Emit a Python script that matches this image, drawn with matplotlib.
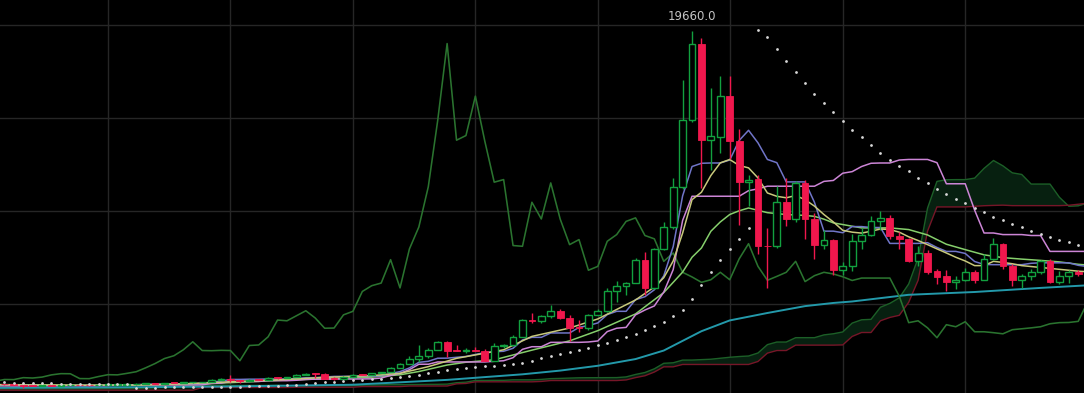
import numpy as np
import matplotlib.pyplot as plt

# weekly candles, index 0 = week of 11 Jul 2016
opens = [675, 665, 655, 625, 590, 570, 580, 570, 606, 608, 607, 603, 612, 617, 640, 655, 700, 712, 705, 738,
         730, 765, 770, 790, 890, 960, 905, 820, 922, 915, 1020, 1000, 1050, 1170, 1240, 1230, 970, 965, 1080, 1185,
         1170, 1250, 1340, 1550, 1780, 2050, 2200, 2520, 2950, 2500, 2470, 2490, 2480, 1930, 2750, 2780, 3220, 4120, 4080, 4350,
         4620, 4230, 3700, 3690, 4400, 4590, 5660, 5970, 6110, 7370, 5850, 7950, 9130, 11290, 14860, 19000, 13830, 13980, 16170, 13780,
         11540, 11720, 8130, 8090, 10460, 9560, 11500, 9560, 8180, 8450, 6800, 7050, 8360, 8720, 9430, 9620, 8670, 8490, 7280, 7730,
         6740, 6470, 6150, 6290, 6690, 6290, 7410, 8230, 7010, 6260, 6470, 6690, 7280, 6190, 6510, 6690]
highs = [680, 680, 665, 630, 600, 595, 585, 615, 630, 612, 610, 615, 620, 645, 660, 710, 745, 720, 750, 745,
         775, 775, 795, 935, 975, 1150, 910, 930, 925, 1030, 1065, 1060, 1195, 1280, 1290, 1260, 1070, 1100, 1210, 1215,
         1260, 1350, 1600, 1800, 2200, 2760, 2600, 2980, 2980, 2760, 2620, 2650, 2540, 2900, 2830, 3300, 4200, 4480, 4400, 4950,
         4700, 4400, 4120, 4470, 4710, 5850, 6200, 6180, 7460, 7770, 8000, 9400, 11770, 17060, 19660, 19320, 16630, 17250, 17250, 14410,
         11950, 11950, 9100, 11320, 11780, 11600, 11680, 9900, 8950, 8500, 7240, 8740, 9050, 9740, 9970, 9750, 8880, 8560, 8090, 7900,
         6880, 6830, 6500, 6900, 6800, 7700, 8540, 8270, 7150, 6620, 6880, 7350, 7400, 6740, 6830, 6830]
lows = [645, 650, 600, 480, 565, 565, 565, 565, 600, 600, 590, 600, 605, 615, 625, 650, 680, 700, 700, 725,
        725, 755, 760, 785, 880, 810, 750, 820, 880, 915, 940, 990, 1050, 1160, 980, 950, 890, 930, 1040, 1150,
        1160, 1250, 1340, 1550, 1760, 1850, 2100, 2500, 2130, 2450, 2350, 2450, 1900, 1900, 2600, 2700, 3200, 3950, 3950, 4250,
        4150, 2980, 3500, 3600, 4380, 4550, 5100, 5450, 6100, 5480, 5800, 7900, 9000, 11200, 14800, 11250, 12220, 13130, 12800, 9260,
        10240, 7650, 5860, 8000, 9170, 9400, 8480, 7380, 7950, 6530, 6520, 6770, 7950, 8620, 8990, 8480, 7950, 7250, 7010, 6600,
        6080, 5660, 5810, 6200, 6100, 6290, 7330, 6870, 5970, 5860, 6280, 6620, 6110, 6080, 6120, 6490]
closes = [665, 655, 625, 590, 570, 580, 570, 608, 608, 607, 603, 612, 617, 640, 655, 700, 705, 705, 735, 730,
          765, 770, 790, 890, 960, 905, 820, 920, 915, 1020, 1000, 1050, 1170, 1235, 1230, 970, 965, 1080, 1180, 1170,
          1250, 1340, 1550, 1780, 2050, 2200, 2520, 2950, 2480, 2470, 2490, 2480, 1930, 2750, 2780, 3220, 4120, 4080, 4350, 4620,
          4230, 3680, 3690, 4400, 4590, 5660, 5970, 6110, 7370, 5850, 7950, 9130, 11290, 14860, 19000, 13800, 14050, 16170, 13750, 11540,
          11680, 8130, 8090, 10460, 9560, 11500, 9560, 8180, 8450, 6800, 7010, 8360, 8720, 9430, 9620, 8670, 8490, 7280, 7730, 6690,
          6440, 6150, 6290, 6690, 6290, 7410, 8230, 7010, 6260, 6470, 6690, 7280, 6190, 6510, 6690, 6600]

# ichimoku lines, one value per bar (117 = visible bars + 1 off the right edge)
tenkan = [630, 630, 630, 630, 630, 580, 580, 580, 580, 580, 580, 580, 597, 605, 612, 637, 668, 668, 670, 675,
          690, 695, 710, 792, 828, 925, 925, 937, 937, 950, 950, 950, 972, 1015, 1020, 1055, 1085, 1090, 1090, 1090,
          1090, 1120, 1245, 1345, 1545, 1845, 1900, 2065, 2070, 2115, 2160, 2265, 2370, 2415, 2440, 2600, 3050, 3190, 3190, 3425,
          3425, 3425, 3725, 3825, 3965, 4415, 4590, 4590, 5220, 5375, 5750, 6500, 8075, 10805, 12383, 12558, 12573, 12573, 12733, 13783,
          14333, 13658, 12763, 12590, 11555, 11555, 11555, 10450, 8905, 8905, 8820, 9150, 9150, 9100, 9100, 8245, 8245, 8245, 8245, 8285,
          8025, 7815, 7815, 7705, 7270, 7110, 7100, 7100, 7100, 7100, 7175, 7200, 7200, 7200, 7200, 7065, 7000]
kijun = [575, 575, 575, 575, 590, 590, 590, 590, 600, 600, 600, 600, 600, 630, 630, 630, 630, 630, 630, 630,
         630, 630, 637, 707, 727, 815, 815, 815, 815, 857, 857, 857, 880, 922, 940, 940, 940, 945, 947, 952,
         957, 1000, 1140, 1250, 1450, 1742, 1742, 1865, 1865, 1865, 1865, 1865, 1865, 1900, 1930, 2095, 2545, 2685, 2685, 2920,
         2920, 2920, 2920, 2940, 2995, 3500, 3680, 3725, 4400, 4660, 4880, 5625, 6835, 9480, 10783, 10783, 10783, 10783, 10783, 10783,
         11083, 11183, 11323, 11323, 11323, 11323, 11323, 11323, 11583, 11633, 12023, 12108, 12383, 12558, 12573, 12573, 12733, 12763, 12763, 12763,
         12590, 11455, 11455, 11455, 10035, 8805, 8805, 8720, 8720, 8720, 8670, 8670, 7815, 7815, 7815, 7815, 7815]
lagging = [820, 920, 915, 1020, 1000, 1050, 1170, 1235, 1230, 970, 965, 1080, 1180, 1170, 1250, 1340, 1550, 1780, 2050, 2200,
           2520, 2950, 2480, 2470, 2490, 2480, 1930, 2750, 2780, 3220, 4120, 4080, 4350, 4620, 4230, 3680, 3690, 4400, 4590, 5660,
           5970, 6110, 7370, 5850, 7950, 9130, 11290, 14860, 19000, 13800, 14050, 16170, 13750, 11540, 11680, 8130, 8090, 10460, 9560, 11500,
           9560, 8180, 8450, 6800, 7010, 8360, 8720, 9430, 9620, 8670, 8490, 7280, 7730, 6690, 6440, 6150, 6290, 6690, 6290, 7410,
           8230, 7010, 6260, 6470, 6690, 7280, 6190, 6510, 6690, 6600, 6450, 6250, 6380, 6380, 6380, 6380, 5400, 3980, 4080, 3700,
           3170, 3870, 3760, 4030, 3490, 3490, 3440, 3380, 3600, 3650, 3700, 3760, 3920, 3980, 3990, 4050, 5100]
span_a = [405, 405, 408, 410, 410, 412, 415, 418, 420, 422, 425, 428, 430, 435, 440, 445, 450, 480, 520, 560,
          585, 600, 610, 615, 620, 605, 602, 602, 602, 602, 610, 585, 585, 585, 590, 590, 590, 590, 598, 617,
          621, 633, 649, 649, 650, 652, 660, 662, 673, 750, 777, 870, 870, 876, 876, 903, 903, 903, 926, 968,
          980, 997, 1012, 1017, 1018, 1021, 1023, 1060, 1192, 1297, 1497, 1793, 1821, 1965, 1967, 1990, 2012, 2065, 2117, 2157,
          2185, 2347, 2797, 2937, 2937, 3172, 3172, 3172, 3322, 3382, 3480, 3957, 4135, 4157, 4810, 5017, 5315, 6062, 7455, 10142,
          11583, 11670, 11678, 11678, 11758, 12283, 12708, 12420, 12043, 11956, 11439, 11439, 11439, 10729, 10244, 10269, 10421]
span_b = [345, 345, 345, 345, 345, 345, 345, 345, 345, 345, 345, 345, 345, 345, 345, 345, 345, 345, 345, 345,
          345, 345, 490, 490, 490, 490, 490, 490, 490, 490, 490, 490, 505, 505, 505, 505, 505, 505, 505, 540,
          540, 540, 540, 540, 570, 570, 570, 570, 570, 687, 707, 795, 795, 795, 795, 795, 795, 795, 817, 865,
          865, 865, 865, 865, 865, 865, 865, 897, 1022, 1122, 1322, 1602, 1602, 1730, 1730, 1730, 1730, 1730, 1730, 1730,
          1730, 1890, 2340, 2480, 2480, 2770, 2770, 2770, 2770, 2770, 2782, 3237, 3450, 3450, 4080, 4260, 4375, 5075, 6260, 8905,
          10208, 10208, 10208, 10208, 10243, 10273, 10290, 10303, 10278, 10278, 10278, 10278, 10278, 10278, 10298, 10353, 10408]

# moving averages, read at their bends
fast_ma_idx = [0, 9, 15, 20, 25, 30, 35, 40, 43, 46, 49, 52, 54, 57, 61, 64, 68, 70, 71, 72,
               73, 74, 75, 76, 77, 78, 79, 80, 81, 82, 83, 84, 85, 86, 87, 88, 89, 90, 91, 92,
               93, 94, 95, 96, 97, 98, 99, 100, 101, 102, 103, 104, 105, 106, 107, 108, 109, 110, 111, 112,
               113, 114, 115, 116]
fast_ma = [640, 608, 622, 686, 796, 899, 1033, 1130, 1252, 1612, 2059, 2335, 2520, 3240, 3690, 4180, 5200, 5900, 6400, 7300,
           8800, 10600, 11000, 11900, 12580, 12760, 12440, 12310, 11770, 10960, 10780, 10700, 10820, 10600, 10250, 9800, 9400, 8950, 8850, 8800,
           8900, 9020, 8990, 8850, 8600, 8400, 8180, 7950, 7730, 7500, 7300, 7050, 7050, 7280, 7220, 7150, 7050, 7000, 6950, 6900,
           6850, 6800, 6750, 6720]
slow_ma_idx = [0, 10, 20, 25, 30, 35, 40, 43, 45, 48, 50, 53, 57, 61, 64, 68, 71, 73, 74, 75,
               76, 77, 78, 79, 80, 82, 84, 86, 87, 88, 89, 90, 92, 95, 97, 99, 101, 103, 105, 107,
               109, 111, 113, 115, 116]
slow_ma = [650, 610, 660, 750, 870, 960, 1050, 1175, 1350, 1700, 1850, 1980, 2500, 3000, 3550, 4450, 5600, 6700, 7500, 8000,
           8900, 9400, 9800, 10000, 10150, 9900, 9800, 9750, 9700, 9550, 9350, 9260, 9080, 9080, 8990, 8700, 8200, 7910, 7630, 7480,
           7400, 7330, 7250, 7120, 7080]
long_ma_idx = [0, 12, 24, 38, 48, 56, 60, 64, 68, 71, 73, 75, 78, 82, 86, 89, 91, 97, 104, 111, 116]
long_ma = [470, 500, 540, 640, 900, 1200, 1400, 1660, 2020, 2480, 3000, 3520, 4100, 4500, 4870, 5040, 5120, 5480, 5630, 5850, 5990]

# parabolic SAR, one dot per bar
sar = [770, 760, 750, 745, 735, 725, 715, 705, 698, 690, 684, 678, 672, 666, 660,
       480, 484, 488, 492, 496, 500, 505, 510, 516, 523, 530, 540, 550, 560, 575, 590,
       610, 640, 680, 720, 760, 800, 840, 870, 900, 930,
       960, 1000, 1050, 1100, 1170, 1250, 1330, 1420, 1500, 1560,
       1600, 1630, 1660, 1700, 1750, 1830, 1930, 2070, 2200, 2300,
       2410, 2520, 2640, 2760, 2900, 3030, 3200, 3370, 3600, 3780,
       3990, 4320, 4640, 5250, 6020, 6690, 7330, 7950, 8490, 9080,
       19720, 19370, 18720, 18060, 17460, 16890, 16310, 15780, 15310, 14820,
       14340, 13960, 13530, 13120, 12760, 12400, 12130, 11770, 11470, 11180,
       10930, 10660, 10430, 10160, 9920, 9670, 9530, 9310, 9110, 8930,
       8760, 8590, 8410, 8300, 8180]

# bars where the time grid lines fall (quarter starts)
time_grid = [12, 25, 38, 51, 64, 78, 90, 103]
price_grid = [5000, 10000, 15000, 20000]

UP = "#12a03f"
DOWN = "#f0174d"

fig = plt.figure(figsize=(10.84, 3.93), dpi=100)
fig.patch.set_facecolor("black")
ax = fig.add_axes([0, 0, 1, 1])
ax.set_facecolor("black")

for g in time_grid:
    ax.axvline(g, color="#262626", lw=1.0, zorder=0)
for g in price_grid:
    ax.axhline(g, color="#262626", lw=1.0, zorder=0)

# cloud
li = np.arange(len(span_a))
sa = np.array(span_a, dtype=float)
sb = np.array(span_b, dtype=float)
ax.fill_between(li, sa, sb, where=sa >= sb, interpolate=True, color="#072010", lw=0, zorder=1)
ax.fill_between(li, sa, sb, where=sa < sb, interpolate=True, color="#22080e", lw=0, zorder=1)
ax.plot(li, sa, color="#1c5f27", lw=1.0, zorder=2)
ax.plot(li, sb, color="#761628", lw=1.0, zorder=2)

# indicator lines
ax.plot(long_ma_idx, long_ma, color="#2399aa", lw=1.4, zorder=3)
ax.plot(np.arange(len(lagging)), lagging, color="#2a732f", lw=1.15, zorder=3)
ax.plot(slow_ma_idx, slow_ma, color="#86cf6c", lw=1.1, zorder=3)
ax.plot(np.arange(len(kijun)), kijun, color="#cc85d6", lw=1.1, zorder=3)
ax.plot(np.arange(len(tenkan)), tenkan, color="#7075c8", lw=1.1, zorder=3)
ax.plot(fast_ma_idx, fast_ma, color="#c8c97c", lw=1.1, zorder=3)

# candles
o = np.array(opens, dtype=float)
h = np.array(highs, dtype=float)
l = np.array(lows, dtype=float)
c = np.array(closes, dtype=float)
ci = np.arange(len(c))
up = c >= o
colors = np.where(up, UP, DOWN)
ax.vlines(ci, l, h, colors=colors, lw=1.0, zorder=4)
body_lo = np.minimum(o, c)
body_h = np.maximum(np.abs(c - o), 40)
ax.bar(ci[up], body_h[up], bottom=body_lo[up], width=0.72,
       facecolor="black", edgecolor=UP, linewidth=1.0, zorder=5)
ax.bar(ci[~up], body_h[~up], bottom=body_lo[~up], width=0.72,
       facecolor=DOWN, edgecolor=DOWN, linewidth=0.6, zorder=5)

# SAR dots
ax.scatter(np.arange(len(sar)), sar, s=4, color="#d6d6d6", lw=0, zorder=6)

# label of the highest high
top = int(np.argmax(h))
ax.annotate(f"{h[top]:.1f}", xy=(top, h[top]), xytext=(0, 8.5), textcoords="offset points",
            ha="center", va="baseline", color="#c4c4c4", fontsize=8.5)

ax.set_xlim(0.535, 115.61)
ax.set_ylim(194, 21345)
ax.axis("off")

fig.savefig("out.png", dpi=100, facecolor="black")
